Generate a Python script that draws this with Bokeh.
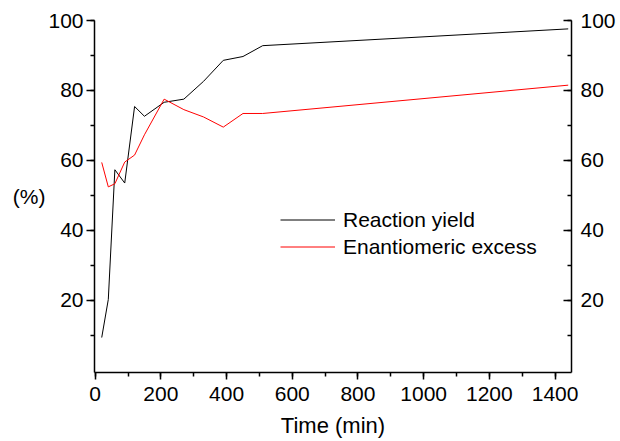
from bokeh.plotting import figure
from bokeh.models import LinearAxis, Range1d, Legend, LegendItem, FixedTicker
from bokeh.embed import file_html
from bokeh.resources import INLINE

time_min = [20, 40, 60, 90, 120, 150, 210, 270, 330, 390, 450, 510, 1440]
reaction_yield = [9.3, 20.2, 57.3, 53.5, 75.4, 72.6, 76.6, 77.5, 82.6, 88.6, 89.7, 92.8, 97.6]
enantiomeric_excess = [59.4, 52.4, 53.3, 59.5, 61.5, 67.3, 77.5, 74.5, 72.4, 69.5, 73.4, 73.4, 81.5]
x_ticks = [0, 200, 400, 600, 800, 1000, 1200, 1400]
y_ticks = [20, 40, 60, 80, 100]

FONT = "Liberation Sans"
TXT = "black"

p = figure(width=618, height=441, output_backend="svg", toolbar_location=None,
           x_range=Range1d(-2, 1450), y_range=Range1d(-0.7, 100),
           min_border_left=94, min_border_right=44, min_border_top=20, min_border_bottom=69,
           y_axis_location=None)
p.outline_line_color = None
p.xgrid.visible = False
p.ygrid.visible = False
p.background_fill_color = "white"
p.border_fill_color = "white"

l1 = p.line(time_min, reaction_yield, line_color="black", line_width=1)
l2 = p.line(time_min, enantiomeric_excess, line_color="#FF0000", line_width=1)

def style(ax, tick_in, tick_out, minor_in, minor_out, standoff):
    ax.major_label_text_font = FONT
    ax.major_label_text_font_size = "21px"
    ax.major_label_text_color = TXT
    ax.major_label_standoff = standoff
    ax.major_tick_out = tick_out
    ax.major_tick_in = tick_in
    ax.minor_tick_out = minor_out
    ax.minor_tick_in = minor_in
    ax.axis_line_width = 1.5
    ax.axis_line_color = "black"
    ax.major_tick_line_width = 1.5
    ax.minor_tick_line_width = 1.5
    ax.major_tick_line_color = "black"
    ax.minor_tick_line_color = "black"
    ax.axis_label_text_font = FONT
    ax.axis_label_text_font_size = "22px"
    ax.axis_label_text_font_style = "normal"
    ax.axis_label_text_color = TXT

# bottom axis
xa = p.xaxis[0]
xa.ticker = FixedTicker(ticks=x_ticks, minor_ticks=list(range(0, 1500, 100)))
xa.axis_label = "Time (min)"
style(xa, 0, 7, 0, 4, 7)
xa.axis_label_standoff = 9

# left axis
ya = LinearAxis(ticker=FixedTicker(ticks=y_ticks, minor_ticks=list(range(10, 101, 10))))
ya.axis_label = "(%)"
ya.axis_label_orientation = "horizontal"
style(ya, 0, 8, 0, 4, 3)
ya.axis_label_text_font_size = "21px"
ya.axis_label_standoff = 0
p.add_layout(ya, "left")

# right axis
ra = LinearAxis(ticker=FixedTicker(ticks=y_ticks, minor_ticks=list(range(10, 101, 10))))
style(ra, 8, 0, 4, 0, 9)
p.add_layout(ra, "right")

legend = Legend(items=[LegendItem(label="Reaction yield", renderers=[l1]),
                       LegendItem(label="Enantiomeric excess", renderers=[l2])],
                location=(186, 112), border_line_color=None, background_fill_alpha=0,
                label_text_font=FONT, label_text_font_size="21px", label_text_color=TXT,
                glyph_width=55, glyph_height=27, label_height=27, label_standoff=8,
                spacing=0, padding=0, margin=0)
p.add_layout(legend, "center")

open("out.html", "w").write(file_html(p, INLINE))
